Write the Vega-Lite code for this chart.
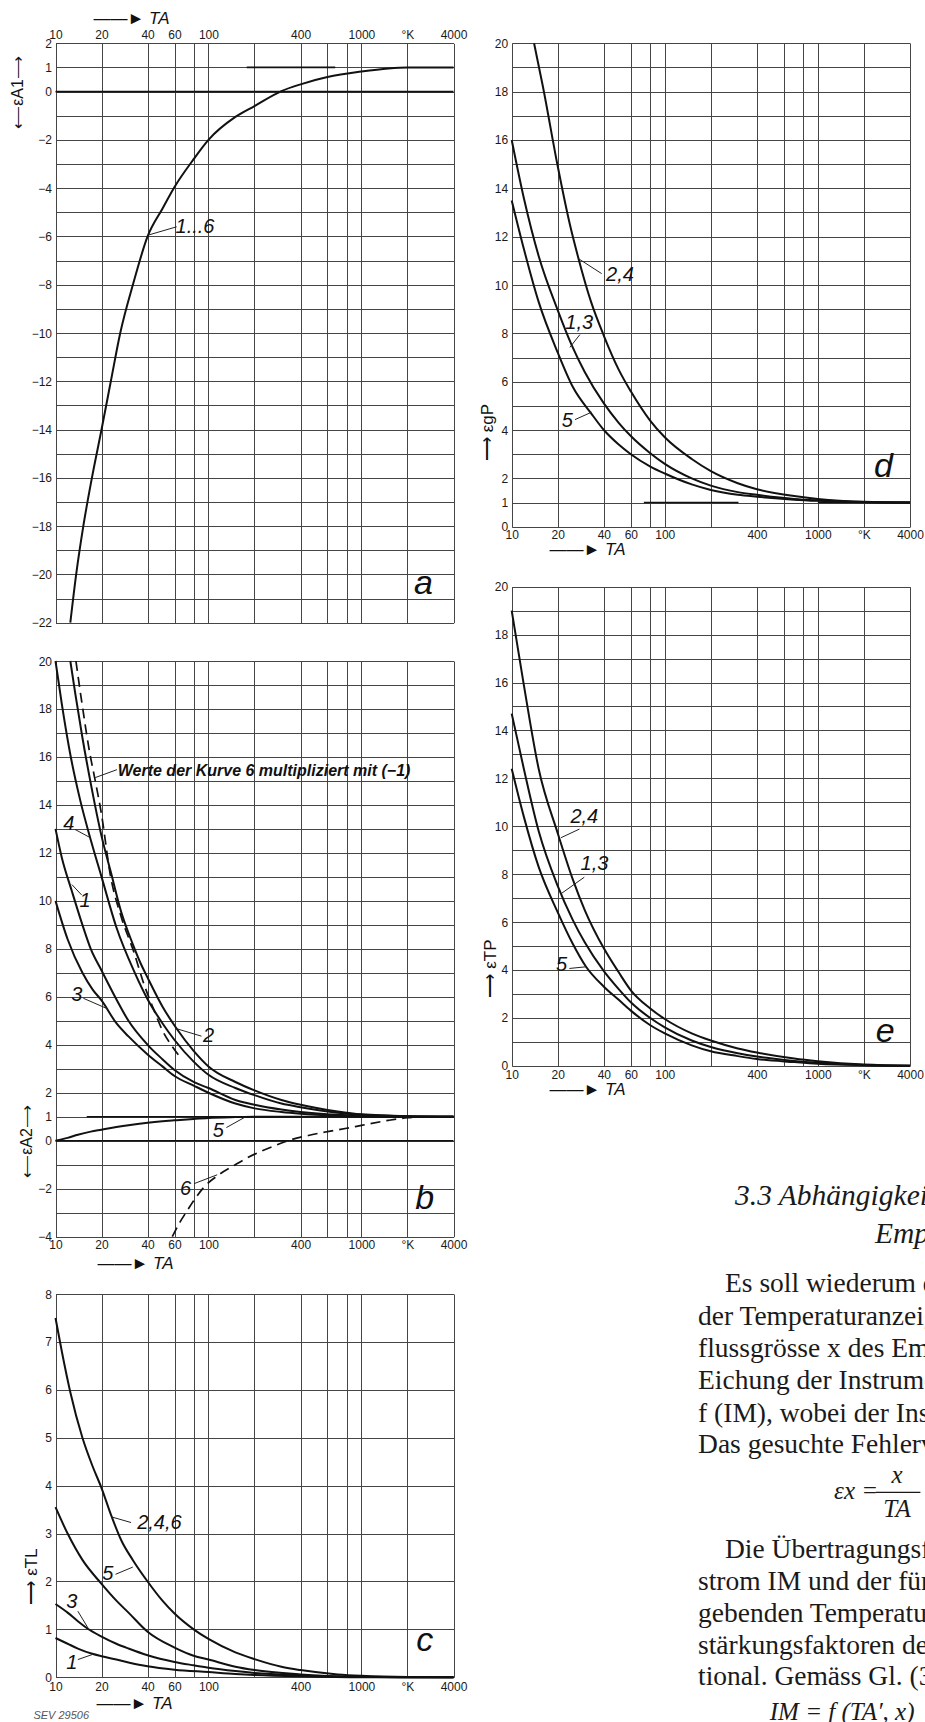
{
"$schema": "https://vega.github.io/schema/vega-lite/v6.json",
"background": "white",
"width": 925,
"height": 1722,
"autosize": "none",
"padding": 0,
"config": {
  "view": {"stroke": null},
  "axis": {"domain": false, "ticks": false, "gridColor": "#454545", "gridWidth": 1, "gridOpacity": 1,
    "labelFont": "Liberation Sans", "labelFontSize": 12, "labelColor": "#1a1a1a", "labelPadding": 4,
    "labelFlush": false, "labelOverlap": false, "labelBound": false,
    "titleFont": "Liberation Sans", "titleFontWeight": "normal", "titleFontSize": 17, "titleColor": "#111"}
},
"resolve": {"scale": {"x": "independent", "y": "independent"}, "axis": {"x": "independent", "y": "independent"}},
"datasets": {
  "a_cur": [{"s":"1-6","T":12.5,"v":-22},{"s":"1-6","T":13.65,"v":-20},{"s":"1-6","T":15.2,"v":-18},{"s":"1-6","T":17.3,"v":-16},{"s":"1-6","T":20,"v":-14},{"s":"1-6","T":23,"v":-12},{"s":"1-6","T":26.5,"v":-10},{"s":"1-6","T":32.4,"v":-7.9},{"s":"1-6","T":40,"v":-6.0},{"s":"1-6","T":50,"v":-4.85},{"s":"1-6","T":60,"v":-3.95},{"s":"1-6","T":80,"v":-2.8},{"s":"1-6","T":100,"v":-2.0},{"s":"1-6","T":150,"v":-1.05},{"s":"1-6","T":200,"v":-0.6},{"s":"1-6","T":300,"v":0.02},{"s":"1-6","T":400,"v":0.3},{"s":"1-6","T":600,"v":0.6},{"s":"1-6","T":1000,"v":0.83},{"s":"1-6","T":1500,"v":0.96},{"s":"1-6","T":2000,"v":1.0},{"s":"1-6","T":4000,"v":1.0}],
  "a_ref": [{"T":10,"T2":4000,"v":0},{"T":178,"T2":674,"v":1}],
  "a_lead": [{"T":40.6,"v":-5.94,"T2":62,"v2":-5.6}],
  "a_lab": [{"k":"curve","T":81.7,"v":-5.6,"t":"1...6"},{"k":"panel","T":2540,"v":-20.4,"t":"a"}],
  "b_cur": [
    {"s":"4","T":10,"v":20},{"s":"4","T":11,"v":18.2},{"s":"4","T":12.5,"v":16.1},{"s":"4","T":14.5,"v":14.2},{"s":"4","T":16.9,"v":12.6},{"s":"4","T":20,"v":11.0},{"s":"4","T":25,"v":8.9},{"s":"4","T":33,"v":7.0},{"s":"4","T":40,"v":5.9},{"s":"4","T":50,"v":4.9},{"s":"4","T":60,"v":4.2},{"s":"4","T":80,"v":3.3},{"s":"4","T":100,"v":2.75},{"s":"4","T":150,"v":2.2},{"s":"4","T":200,"v":1.9},{"s":"4","T":300,"v":1.55},{"s":"4","T":400,"v":1.4},{"s":"4","T":700,"v":1.17},{"s":"4","T":1000,"v":1.08},{"s":"4","T":2000,"v":1.02},{"s":"4","T":4000,"v":1.0},
    {"s":"2","T":12.5,"v":20},{"s":"2","T":13.5,"v":18.6},{"s":"2","T":15,"v":16.8},{"s":"2","T":17,"v":14.9},{"s":"2","T":20,"v":12.7},{"s":"2","T":23,"v":11.2},{"s":"2","T":27,"v":9.5},{"s":"2","T":32,"v":8.2},{"s":"2","T":36,"v":7.4},{"s":"2","T":40,"v":6.8},{"s":"2","T":50,"v":5.6},{"s":"2","T":62,"v":4.67},{"s":"2","T":80,"v":3.75},{"s":"2","T":100,"v":3.1},{"s":"2","T":150,"v":2.45},{"s":"2","T":200,"v":2.1},{"s":"2","T":300,"v":1.7},{"s":"2","T":400,"v":1.5},{"s":"2","T":700,"v":1.22},{"s":"2","T":1000,"v":1.1},{"s":"2","T":2000,"v":1.02},{"s":"2","T":4000,"v":1.0},
    {"s":"1","T":10,"v":13.0},{"s":"1","T":11,"v":11.8},{"s":"1","T":12.8,"v":10.4},{"s":"1","T":15,"v":9.0},{"s":"1","T":17,"v":8.0},{"s":"1","T":20,"v":7.1},{"s":"1","T":25,"v":5.9},{"s":"1","T":30,"v":5.0},{"s":"1","T":40,"v":4.0},{"s":"1","T":50,"v":3.4},{"s":"1","T":60,"v":2.95},{"s":"1","T":80,"v":2.45},{"s":"1","T":100,"v":2.2},{"s":"1","T":150,"v":1.7},{"s":"1","T":200,"v":1.5},{"s":"1","T":300,"v":1.3},{"s":"1","T":400,"v":1.2},{"s":"1","T":700,"v":1.08},{"s":"1","T":1000,"v":1.04},{"s":"1","T":2000,"v":1.0},{"s":"1","T":4000,"v":1.0},
    {"s":"3","T":10,"v":10.0},{"s":"3","T":12,"v":8.4},{"s":"3","T":15,"v":7.0},{"s":"3","T":17.5,"v":6.3},{"s":"3","T":20,"v":5.85},{"s":"3","T":25,"v":4.9},{"s":"3","T":30,"v":4.35},{"s":"3","T":40,"v":3.6},{"s":"3","T":50,"v":3.1},{"s":"3","T":60,"v":2.7},{"s":"3","T":80,"v":2.3},{"s":"3","T":100,"v":2.0},{"s":"3","T":150,"v":1.55},{"s":"3","T":200,"v":1.35},{"s":"3","T":300,"v":1.2},{"s":"3","T":400,"v":1.13},{"s":"3","T":700,"v":1.05},{"s":"3","T":1000,"v":1.02},{"s":"3","T":2000,"v":1.0},{"s":"3","T":4000,"v":1.0},
    {"s":"5","T":10,"v":0},{"s":"5","T":12,"v":0.12},{"s":"5","T":14,"v":0.25},{"s":"5","T":17,"v":0.38},{"s":"5","T":20,"v":0.46},{"s":"5","T":25,"v":0.57},{"s":"5","T":30,"v":0.65},{"s":"5","T":40,"v":0.75},{"s":"5","T":50,"v":0.81},{"s":"5","T":60,"v":0.85},{"s":"5","T":80,"v":0.91},{"s":"5","T":100,"v":0.95},{"s":"5","T":150,"v":0.985},{"s":"5","T":200,"v":1.0},{"s":"5","T":4000,"v":1.0}
  ],
  "b_dash": [
    {"s":"6m","T":13.6,"v":20},{"s":"6m","T":15,"v":18.1},{"s":"6m","T":16.6,"v":16.3},{"s":"6m","T":18.2,"v":15.0},{"s":"6m","T":20,"v":13.6},{"s":"6m","T":22.8,"v":11.1},{"s":"6m","T":27,"v":9.3},{"s":"6m","T":32.4,"v":7.9},{"s":"6m","T":38,"v":6.5},{"s":"6m","T":43.7,"v":5.5},{"s":"6m","T":50,"v":4.6},{"s":"6m","T":57,"v":4.0},{"s":"6m","T":65,"v":3.5},
    {"s":"6","T":58,"v":-4},{"s":"6","T":65,"v":-3.4},{"s":"6","T":72,"v":-2.95},{"s":"6","T":80,"v":-2.5},{"s":"6","T":93,"v":-1.95},{"s":"6","T":115,"v":-1.45},{"s":"6","T":150,"v":-1.0},{"s":"6","T":175,"v":-0.75},{"s":"6","T":210,"v":-0.5},{"s":"6","T":260,"v":-0.25},{"s":"6","T":330,"v":0},{"s":"6","T":450,"v":0.22},{"s":"6","T":600,"v":0.38},{"s":"6","T":800,"v":0.52},{"s":"6","T":1000,"v":0.64},{"s":"6","T":1500,"v":0.85},{"s":"6","T":2000,"v":0.96},{"s":"6","T":2600,"v":1.0}
  ],
  "b_ref": [{"T":10,"T2":4000,"v":0},{"T":16,"T2":4000,"v":1}],
  "b_lead": [{"T":18.2,"v":15.14,"T2":25.2,"v2":15.47},{"T":13.4,"v":12.98,"T2":16.7,"v2":12.65},{"T":12.8,"v":10.68,"T2":14.8,"v2":10.25},{"T":15.2,"v":5.94,"T2":21.9,"v2":5.5},{"T":62,"v":4.67,"T2":90,"v2":4.36},{"T":131,"v":0.55,"T2":173,"v2":0.98},{"T":80.4,"v":-1.79,"T2":114,"v2":-1.42}],
  "b_lab": [{"k":"note","T":231,"v":15.43,"t":"Werte der Kurve 6 multipliziert mit (−1)"},{"k":"curve","T":12.2,"v":13.2,"t":"4"},{"k":"curve","T":15.6,"v":10.0,"t":"1"},{"k":"curve","T":13.8,"v":6.08,"t":"3"},{"k":"curve","T":100,"v":4.36,"t":"2"},{"k":"curve","T":116,"v":0.4,"t":"5"},{"k":"curve","T":70.8,"v":-2.0,"t":"6"},{"k":"panel","T":2590,"v":-2.43,"t":"b"}],
  "c_cur": [
    {"s":"246","T":10,"v":7.5},{"s":"246","T":11,"v":6.8},{"s":"246","T":12.5,"v":5.95},{"s":"246","T":15,"v":5.0},{"s":"246","T":17.5,"v":4.4},{"s":"246","T":20,"v":3.95},{"s":"246","T":23,"v":3.4},{"s":"246","T":27,"v":2.85},{"s":"246","T":32,"v":2.45},{"s":"246","T":40,"v":2.0},{"s":"246","T":50,"v":1.6},{"s":"246","T":60,"v":1.33},{"s":"246","T":80,"v":1.0},{"s":"246","T":100,"v":0.8},{"s":"246","T":150,"v":0.52},{"s":"246","T":200,"v":0.38},{"s":"246","T":300,"v":0.22},{"s":"246","T":400,"v":0.15},{"s":"246","T":700,"v":0.06},{"s":"246","T":1000,"v":0.03},{"s":"246","T":2000,"v":0.005},{"s":"246","T":4000,"v":0},
    {"s":"5","T":10,"v":3.55},{"s":"5","T":12,"v":3.0},{"s":"5","T":15,"v":2.45},{"s":"5","T":20,"v":1.95},{"s":"5","T":25,"v":1.6},{"s":"5","T":30,"v":1.35},{"s":"5","T":40,"v":0.95},{"s":"5","T":60,"v":0.62},{"s":"5","T":80,"v":0.45},{"s":"5","T":100,"v":0.37},{"s":"5","T":150,"v":0.22},{"s":"5","T":200,"v":0.15},{"s":"5","T":400,"v":0.06},{"s":"5","T":1000,"v":0.01},{"s":"5","T":2000,"v":0},{"s":"5","T":4000,"v":0},
    {"s":"3","T":10,"v":1.53},{"s":"3","T":12,"v":1.35},{"s":"3","T":14,"v":1.17},{"s":"3","T":16,"v":1.03},{"s":"3","T":20,"v":0.85},{"s":"3","T":25,"v":0.7},{"s":"3","T":30,"v":0.6},{"s":"3","T":40,"v":0.46},{"s":"3","T":60,"v":0.32},{"s":"3","T":80,"v":0.25},{"s":"3","T":100,"v":0.2},{"s":"3","T":150,"v":0.13},{"s":"3","T":200,"v":0.09},{"s":"3","T":400,"v":0.04},{"s":"3","T":1000,"v":0.01},{"s":"3","T":2000,"v":0},{"s":"3","T":4000,"v":0},
    {"s":"1","T":10,"v":0.82},{"s":"1","T":12,"v":0.7},{"s":"1","T":14,"v":0.6},{"s":"1","T":17.4,"v":0.49},{"s":"1","T":20,"v":0.44},{"s":"1","T":25,"v":0.37},{"s":"1","T":30,"v":0.31},{"s":"1","T":40,"v":0.23},{"s":"1","T":60,"v":0.16},{"s":"1","T":100,"v":0.11},{"s":"1","T":150,"v":0.07},{"s":"1","T":200,"v":0.05},{"s":"1","T":400,"v":0.02},{"s":"1","T":1000,"v":0},{"s":"1","T":4000,"v":0}
  ],
  "c_lead": [{"T":23.1,"v":3.35,"T2":31.2,"v2":3.23},{"T":24.7,"v":2.15,"T2":32,"v2":2.3},{"T":14,"v":1.38,"T2":16.3,"v2":1.03},{"T":14,"v":0.37,"T2":17.4,"v2":0.475}],
  "c_lab": [{"k":"curve","T":47.8,"v":3.23,"t":"2,4,6"},{"k":"curve","T":22,"v":2.15,"t":"5"},{"k":"curve","T":12.8,"v":1.57,"t":"3"},{"k":"curve","T":12.8,"v":0.3,"t":"1"},{"k":"panel","T":2590,"v":0.76,"t":"c"},{"k":"sev","T":10.9,"v":-0.8,"t":"SEV 29506"}],
  "d_cur": [
    {"s":"24","T":14,"v":20},{"s":"24","T":16,"v":18.2},{"s":"24","T":20,"v":14.9},{"s":"24","T":24,"v":12.5},{"s":"24","T":27.3,"v":11.1},{"s":"24","T":33,"v":9.3},{"s":"24","T":40,"v":7.9},{"s":"24","T":50,"v":6.5},{"s":"24","T":60,"v":5.6},{"s":"24","T":80,"v":4.4},{"s":"24","T":100,"v":3.7},{"s":"24","T":150,"v":2.8},{"s":"24","T":200,"v":2.3},{"s":"24","T":300,"v":1.8},{"s":"24","T":400,"v":1.55},{"s":"24","T":700,"v":1.27},{"s":"24","T":1000,"v":1.15},{"s":"24","T":2000,"v":1.03},{"s":"24","T":4000,"v":1.0},
    {"s":"13","T":10,"v":16.0},{"s":"13","T":12,"v":13.6},{"s":"13","T":15,"v":11.2},{"s":"13","T":20,"v":8.95},{"s":"13","T":24.7,"v":7.5},{"s":"13","T":30,"v":6.4},{"s":"13","T":40,"v":5.1},{"s":"13","T":50,"v":4.3},{"s":"13","T":60,"v":3.75},{"s":"13","T":80,"v":3.05},{"s":"13","T":100,"v":2.6},{"s":"13","T":150,"v":2.0},{"s":"13","T":200,"v":1.7},{"s":"13","T":300,"v":1.43},{"s":"13","T":400,"v":1.32},{"s":"13","T":700,"v":1.15},{"s":"13","T":1000,"v":1.09},{"s":"13","T":2000,"v":1.02},{"s":"13","T":4000,"v":1.0},
    {"s":"5","T":10,"v":13.5},{"s":"5","T":12,"v":11.5},{"s":"5","T":15,"v":9.3},{"s":"5","T":20,"v":7.2},{"s":"5","T":25,"v":5.8},{"s":"5","T":33.3,"v":4.66},{"s":"5","T":40,"v":4.0},{"s":"5","T":50,"v":3.4},{"s":"5","T":60,"v":3.0},{"s":"5","T":80,"v":2.5},{"s":"5","T":100,"v":2.2},{"s":"5","T":150,"v":1.75},{"s":"5","T":200,"v":1.52},{"s":"5","T":300,"v":1.32},{"s":"5","T":400,"v":1.24},{"s":"5","T":700,"v":1.12},{"s":"5","T":1000,"v":1.07},{"s":"5","T":2000,"v":1.01},{"s":"5","T":4000,"v":1.0}
  ],
  "d_ref": [{"T":73,"T2":303,"v":1},{"T":1000,"T2":4000,"v":1}],
  "d_lead": [{"T":27.3,"v":11.09,"T2":38.7,"v2":10.47},{"T":24.0,"v":7.42,"T2":27.9,"v2":7.95},{"T":25.9,"v":4.43,"T2":33.3,"v2":4.74}],
  "d_lab": [{"k":"curve","T":51,"v":10.4,"t":"2,4"},{"k":"curve","T":27.6,"v":8.41,"t":"1,3"},{"k":"curve","T":23.1,"v":4.36,"t":"5"},{"k":"panel","T":2680,"v":2.45,"t":"d"}],
  "e_cur": [
    {"s":"24","T":10,"v":19.0},{"s":"24","T":12,"v":15.9},{"s":"24","T":15,"v":12.4},{"s":"24","T":20,"v":9.7},{"s":"24","T":25,"v":7.8},{"s":"24","T":30,"v":6.5},{"s":"24","T":40,"v":4.9},{"s":"24","T":50,"v":3.9},{"s":"24","T":60,"v":3.15},{"s":"24","T":80,"v":2.4},{"s":"24","T":100,"v":1.95},{"s":"24","T":150,"v":1.35},{"s":"24","T":200,"v":1.05},{"s":"24","T":300,"v":0.72},{"s":"24","T":400,"v":0.55},{"s":"24","T":700,"v":0.3},{"s":"24","T":1000,"v":0.19},{"s":"24","T":2000,"v":0.05},{"s":"24","T":4000,"v":0},
    {"s":"13","T":10,"v":14.7},{"s":"13","T":12,"v":12.4},{"s":"13","T":15,"v":9.8},{"s":"13","T":20,"v":7.5},{"s":"13","T":25,"v":6.1},{"s":"13","T":30,"v":5.15},{"s":"13","T":40,"v":3.95},{"s":"13","T":50,"v":3.2},{"s":"13","T":60,"v":2.65},{"s":"13","T":80,"v":2.0},{"s":"13","T":100,"v":1.6},{"s":"13","T":150,"v":1.05},{"s":"13","T":200,"v":0.78},{"s":"13","T":300,"v":0.52},{"s":"13","T":400,"v":0.38},{"s":"13","T":700,"v":0.2},{"s":"13","T":1000,"v":0.12},{"s":"13","T":2000,"v":0.03},{"s":"13","T":4000,"v":0},
    {"s":"5","T":10,"v":12.4},{"s":"5","T":12,"v":10.4},{"s":"5","T":15,"v":8.3},{"s":"5","T":20,"v":6.4},{"s":"5","T":25,"v":5.1},{"s":"5","T":30.6,"v":4.13},{"s":"5","T":40,"v":3.3},{"s":"5","T":50,"v":2.75},{"s":"5","T":60,"v":2.3},{"s":"5","T":80,"v":1.7},{"s":"5","T":100,"v":1.35},{"s":"5","T":150,"v":0.85},{"s":"5","T":200,"v":0.6},{"s":"5","T":300,"v":0.4},{"s":"5","T":400,"v":0.28},{"s":"5","T":700,"v":0.15},{"s":"5","T":1000,"v":0.08},{"s":"5","T":2000,"v":0.02},{"s":"5","T":4000,"v":0}
  ],
  "e_lead": [{"T":21.0,"v":9.52,"T2":27.7,"v2":9.88},{"T":21.0,"v":7.18,"T2":29.8,"v2":7.87},{"T":23.8,"v":4.06,"T2":30.6,"v2":4.13}],
  "e_lab": [{"k":"curve","T":29.8,"v":10.38,"t":"2,4"},{"k":"curve","T":34.7,"v":8.44,"t":"1,3"},{"k":"curve","T":21.2,"v":4.21,"t":"5"},{"k":"panel","T":2750,"v":1.41,"t":"e"}],
  "txt": [
    {"k":"h","u":0.23,"line":2.45,"t":"3.3 Abhängigkeit der"},
    {"k":"h","u":6.32,"line":3.63,"t":"Empfindlichkeit"},
    {"k":"b","u":-0.21,"line":5.15,"t":"Es soll wiederum die Abhängigkeit"},
    {"k":"b","u":-1.385,"line":6.17,"t":"der Temperaturanzeige von der Ein-"},
    {"k":"b","u":-1.385,"line":7.17,"t":"flussgrösse x des Empfängers bei"},
    {"k":"b","u":-1.385,"line":8.15,"t":"Eichung der Instrumente nach"},
    {"k":"b","u":-1.385,"line":9.17,"t":"f (IM), wobei der Instrumentenstrom"},
    {"k":"b","u":-1.385,"line":10.14,"t":"Das gesuchte Fehlerverhältnis"},
    {"k":"f","u":4.54,"line":11.55,"t":"εx ="},
    {"k":"fc","u":7.28,"line":11.05,"t":"x"},
    {"k":"fc","u":7.28,"line":12.1,"t":"TA"},
    {"k":"b","u":-0.21,"line":13.38,"t":"Die Übertragungsfunktion"},
    {"k":"b","u":-1.385,"line":14.37,"t":"strom IM und der für die"},
    {"k":"b","u":-1.385,"line":15.36,"t":"gebenden Temperaturwerte"},
    {"k":"b","u":-1.385,"line":16.35,"t":"stärkungsfaktoren der Ver-"},
    {"k":"b","u":-1.385,"line":17.31,"t":"tional. Gemäss Gl. (3)"},
    {"k":"f","u":1.74,"line":18.4,"t":"IM = f (TA′, x)"}
  ],
  "txt_bar": [{"u":6.35,"u2":8.3,"line":11.35}]
},
"layer": [
 {"resolve": {"axis": {"x": "independent", "y": "independent"}},
  "layer": [
   {"data":{"name":"a_cur"},"mark":{"type":"line","color":"#111","strokeWidth":2,"interpolate":"monotone"},
    "encoding":{
     "x":{"field":"T","type":"quantitative","scale":{"type":"log","domain":[10,4000],"nice":false,"range":[55.5,453.5]},
       "axis":{"orient":"top","offset":-43.3,"grid":true,"values":[10,20,40,60,80,100,200,400,600,800,1000,2000,4000],"format":"d",
         "labelExpr":"datum.value == 2000 ? '°K' : ((datum.value == 80 || datum.value == 200 || datum.value == 600 || datum.value == 800) ? '' : datum.label)",
         "labelPadding":2,"title":"——► TA","titleFontStyle":"italic","titleX":131,"titleY":-25,"titleAlign":"center","titleBaseline":"middle","titleAngle":0}},
     "y":{"field":"v","type":"quantitative","scale":{"domain":[-22,2],"nice":false,"zero":false,"range":[622.7,43.3]},
       "axis":{"orient":"left","offset":-55.5,"grid":true,"values":[-22,-21,-20,-19,-18,-17,-16,-15,-14,-13,-12,-11,-10,-9,-8,-7,-6,-5,-4,-3,-2,-1,0,1,2],"format":"d",
         "labelExpr":"(datum.value % 2 == 0 || datum.value == 1) ? datum.label : ''",
         "title":"⟵εA1⟶","titleFontSize":16,"titleX":-38,"titleY":92,"titleAngle":270,"titleAlign":"center","titleBaseline":"middle"}},
     "detail":{"field":"s"}}},
   {"data":{"name":"a_ref"},"mark":{"type":"rule","color":"#111","strokeWidth":1.8},
    "encoding":{"x":{"field":"T","type":"quantitative","axis":null},"x2":{"field":"T2"},"y":{"field":"v","type":"quantitative","axis":null}}},
   {"data":{"name":"a_lead"},"mark":{"type":"rule","color":"#222","strokeWidth":1},
    "encoding":{"x":{"field":"T","type":"quantitative","axis":null},"x2":{"field":"T2"},"y":{"field":"v","type":"quantitative","axis":null},"y2":{"field":"v2"}}},
   {"data":{"name":"a_lab"},"transform":[{"filter":"datum.k == 'curve'"}],"mark":{"type":"text","font":"Liberation Sans","fontStyle":"italic","fontSize":20,"color":"#111","align":"center","baseline":"middle"},
    "encoding":{"x":{"field":"T","type":"quantitative","axis":null},"y":{"field":"v","type":"quantitative","axis":null},"text":{"field":"t"}}},
   {"data":{"name":"a_lab"},"transform":[{"filter":"datum.k == 'panel'"}],"mark":{"type":"text","font":"Liberation Sans","fontStyle":"italic","fontSize":34,"color":"#111","align":"center","baseline":"middle"},
    "encoding":{"x":{"field":"T","type":"quantitative","axis":null},"y":{"field":"v","type":"quantitative","axis":null},"text":{"field":"t"}}}
 ]},
 {"resolve": {"axis": {"x": "independent", "y": "independent"}},
  "layer": [
   {"data":{"name":"b_cur"},"mark":{"type":"line","color":"#111","strokeWidth":2,"interpolate":"monotone"},
    "encoding":{
     "x":{"field":"T","type":"quantitative","scale":{"type":"log","domain":[10,4000],"nice":false,"range":[55.5,453.5]},
       "axis":{"orient":"top","offset":-661,"grid":true,"labels":false,"title":null,"values":[10,20,40,60,80,100,200,400,600,800,1000,2000,4000]}},
     "y":{"field":"v","type":"quantitative","scale":{"domain":[-4,20],"nice":false,"zero":false,"range":[1236.7,661]},
       "axis":{"orient":"left","offset":-55.5,"grid":true,"values":[-4,-3,-2,-1,0,1,2,3,4,5,6,7,8,9,10,11,12,13,14,15,16,17,18,19,20],"format":"d",
         "labelExpr":"(datum.value % 2 == 0 || datum.value == 1) ? datum.label : ''",
         "title":"⟵εA2⟶","titleFontSize":16,"titleX":-29,"titleY":1141,"titleAngle":270,"titleAlign":"center","titleBaseline":"middle"}},
     "detail":{"field":"s"}}},
   {"data":{"name":"b_dash"},"mark":{"type":"line","color":"#111","strokeWidth":1.7,"strokeDash":[10,6],"interpolate":"monotone"},
    "encoding":{"x":{"field":"T","type":"quantitative","axis":null},"y":{"field":"v","type":"quantitative","axis":null},"detail":{"field":"s"}}},
   {"data":{"name":"b_ref"},"mark":{"type":"rule","color":"#111","strokeWidth":1.7},
    "encoding":{"x":{"field":"T","type":"quantitative","axis":null},"x2":{"field":"T2"},"y":{"field":"v","type":"quantitative","axis":null}}},
   {"data":{"name":"b_lead"},"mark":{"type":"rule","color":"#222","strokeWidth":1},
    "encoding":{
     "x":{"field":"T","type":"quantitative",
       "axis":{"orient":"bottom","offset":-485.3,"grid":false,"values":[10,20,40,60,80,100,200,400,600,800,1000,2000,4000],"format":"d",
         "labelExpr":"datum.value == 2000 ? '°K' : ((datum.value == 80 || datum.value == 200 || datum.value == 600 || datum.value == 800) ? '' : datum.label)",
         "labelPadding":3,"title":"——► TA","titleFontStyle":"italic","titleX":135,"titleY":27,"titleAlign":"center","titleBaseline":"middle","titleAngle":0}},
     "x2":{"field":"T2"},"y":{"field":"v","type":"quantitative","axis":null},"y2":{"field":"v2"}}},
   {"data":{"name":"b_lab"},"transform":[{"filter":"datum.k == 'curve'"}],"mark":{"type":"text","font":"Liberation Sans","fontStyle":"italic","fontSize":20,"color":"#111","align":"center","baseline":"middle"},
    "encoding":{"x":{"field":"T","type":"quantitative","axis":null},"y":{"field":"v","type":"quantitative","axis":null},"text":{"field":"t"}}},
   {"data":{"name":"b_lab"},"transform":[{"filter":"datum.k == 'note'"}],"mark":{"type":"text","font":"Liberation Sans","fontStyle":"italic","fontWeight":"bold","fontSize":16,"color":"#111","align":"center","baseline":"middle"},
    "encoding":{"x":{"field":"T","type":"quantitative","axis":null},"y":{"field":"v","type":"quantitative","axis":null},"text":{"field":"t"}}},
   {"data":{"name":"b_lab"},"transform":[{"filter":"datum.k == 'panel'"}],"mark":{"type":"text","font":"Liberation Sans","fontStyle":"italic","fontSize":34,"color":"#111","align":"center","baseline":"middle"},
    "encoding":{"x":{"field":"T","type":"quantitative","axis":null},"y":{"field":"v","type":"quantitative","axis":null},"text":{"field":"t"}}}
 ]},
 {"resolve": {"axis": {"x": "independent", "y": "independent"}},
  "layer": [
   {"data":{"name":"c_cur"},"mark":{"type":"line","color":"#111","strokeWidth":2,"interpolate":"monotone"},
    "encoding":{
     "x":{"field":"T","type":"quantitative","scale":{"type":"log","domain":[10,4000],"nice":false,"range":[55.5,453.5]},
       "axis":{"orient":"top","offset":-1294,"grid":true,"labels":false,"title":null,"values":[10,20,40,60,80,100,200,400,600,800,1000,2000,4000]}},
     "y":{"field":"v","type":"quantitative","scale":{"domain":[0,8],"nice":false,"zero":false,"range":[1677.3,1294]},
       "axis":{"orient":"left","offset":-55.5,"grid":true,"values":[0,0.5,1,1.5,2,2.5,3,3.5,4,4.5,5,5.5,6,6.5,7,7.5,8],"format":"d",
         "labelExpr":"(datum.value % 1 == 0) ? datum.label : ''",
         "title":"⟶ εTL","titleX":-24,"titleY":1576,"titleAngle":270,"titleAlign":"center","titleBaseline":"middle"}},
     "detail":{"field":"s"}}},
   {"data":{"name":"c_lead"},"mark":{"type":"rule","color":"#222","strokeWidth":1},
    "encoding":{
     "x":{"field":"T","type":"quantitative",
       "axis":{"orient":"bottom","offset":-44.7,"grid":false,"values":[10,20,40,60,80,100,200,400,600,800,1000,2000,4000],"format":"d",
         "labelExpr":"datum.value == 2000 ? '°K' : ((datum.value == 80 || datum.value == 200 || datum.value == 600 || datum.value == 800) ? '' : datum.label)",
         "labelPadding":4,"title":"——► TA","titleFontStyle":"italic","titleX":134,"titleY":26,"titleAlign":"center","titleBaseline":"middle","titleAngle":0}},
     "x2":{"field":"T2"},"y":{"field":"v","type":"quantitative","axis":null},"y2":{"field":"v2"}}},
   {"data":{"name":"c_lab"},"transform":[{"filter":"datum.k == 'curve'"}],"mark":{"type":"text","font":"Liberation Sans","fontStyle":"italic","fontSize":20,"color":"#111","align":"center","baseline":"middle"},
    "encoding":{"x":{"field":"T","type":"quantitative","axis":null},"y":{"field":"v","type":"quantitative","axis":null},"text":{"field":"t"}}},
   {"data":{"name":"c_lab"},"transform":[{"filter":"datum.k == 'panel'"}],"mark":{"type":"text","font":"Liberation Sans","fontStyle":"italic","fontSize":34,"color":"#111","align":"center","baseline":"middle"},
    "encoding":{"x":{"field":"T","type":"quantitative","axis":null},"y":{"field":"v","type":"quantitative","axis":null},"text":{"field":"t"}}},
   {"data":{"name":"c_lab"},"transform":[{"filter":"datum.k == 'sev'"}],"mark":{"type":"text","font":"Liberation Sans","fontStyle":"italic","fontSize":11,"color":"#555","align":"center","baseline":"middle"},
    "encoding":{"x":{"field":"T","type":"quantitative","axis":null},"y":{"field":"v","type":"quantitative","axis":null},"text":{"field":"t"}}}
 ]},
 {"resolve": {"axis": {"x": "independent", "y": "independent"}},
  "layer": [
   {"data":{"name":"d_cur"},"mark":{"type":"line","color":"#111","strokeWidth":2,"interpolate":"monotone"},
    "encoding":{
     "x":{"field":"T","type":"quantitative","scale":{"type":"log","domain":[10,4000],"nice":false,"range":[511.7,910]},
       "axis":{"orient":"top","offset":-43.3,"grid":true,"labels":false,"title":null,"values":[10,20,40,60,80,100,200,400,600,800,1000,2000,4000]}},
     "y":{"field":"v","type":"quantitative","scale":{"domain":[0,20],"nice":false,"zero":false,"range":[526.7,43.3]},
       "axis":{"orient":"left","offset":-511.7,"grid":true,"values":[0,1,2,3,4,5,6,7,8,9,10,11,12,13,14,15,16,17,18,19,20],"format":"d",
         "labelExpr":"(datum.value % 2 == 0 || datum.value == 1) ? datum.label : ''",
         "title":"⟶ εgP","titleX":-24,"titleY":432,"titleAngle":270,"titleAlign":"center","titleBaseline":"middle"}},
     "detail":{"field":"s"}}},
   {"data":{"name":"d_ref"},"mark":{"type":"rule","color":"#111","strokeWidth":1.6},
    "encoding":{"x":{"field":"T","type":"quantitative","axis":null},"x2":{"field":"T2"},"y":{"field":"v","type":"quantitative","axis":null}}},
   {"data":{"name":"d_lead"},"mark":{"type":"rule","color":"#222","strokeWidth":1},
    "encoding":{
     "x":{"field":"T","type":"quantitative",
       "axis":{"orient":"bottom","offset":-1195.3,"grid":false,"values":[10,20,40,60,80,100,200,400,600,800,1000,2000,4000],"format":"d",
         "labelExpr":"datum.value == 2000 ? '°K' : ((datum.value == 80 || datum.value == 200 || datum.value == 600 || datum.value == 800) ? '' : datum.label)",
         "labelPadding":3,"title":"——► TA","titleFontStyle":"italic","titleX":587,"titleY":23,"titleAlign":"center","titleBaseline":"middle","titleAngle":0}},
     "x2":{"field":"T2"},"y":{"field":"v","type":"quantitative","axis":null},"y2":{"field":"v2"}}},
   {"data":{"name":"d_lab"},"transform":[{"filter":"datum.k == 'curve'"}],"mark":{"type":"text","font":"Liberation Sans","fontStyle":"italic","fontSize":20,"color":"#111","align":"center","baseline":"middle"},
    "encoding":{"x":{"field":"T","type":"quantitative","axis":null},"y":{"field":"v","type":"quantitative","axis":null},"text":{"field":"t"}}},
   {"data":{"name":"d_lab"},"transform":[{"filter":"datum.k == 'panel'"}],"mark":{"type":"text","font":"Liberation Sans","fontStyle":"italic","fontSize":34,"color":"#111","align":"center","baseline":"middle"},
    "encoding":{"x":{"field":"T","type":"quantitative","axis":null},"y":{"field":"v","type":"quantitative","axis":null},"text":{"field":"t"}}}
 ]},
 {"resolve": {"axis": {"x": "independent", "y": "independent"}},
  "layer": [
   {"data":{"name":"e_cur"},"mark":{"type":"line","color":"#111","strokeWidth":2,"interpolate":"monotone"},
    "encoding":{
     "x":{"field":"T","type":"quantitative","scale":{"type":"log","domain":[10,4000],"nice":false,"range":[511.7,910]},
       "axis":{"orient":"top","offset":-586.7,"grid":true,"labels":false,"title":null,"values":[10,20,40,60,80,100,200,400,600,800,1000,2000,4000]}},
     "y":{"field":"v","type":"quantitative","scale":{"domain":[0,20],"nice":false,"zero":false,"range":[1065.7,586.7]},
       "axis":{"orient":"left","offset":-511.7,"grid":true,"values":[0,1,2,3,4,5,6,7,8,9,10,11,12,13,14,15,16,17,18,19,20],"format":"d",
         "labelExpr":"(datum.value % 2 == 0) ? datum.label : ''",
         "title":"⟶ εTP","titleX":-21,"titleY":968,"titleAngle":270,"titleAlign":"center","titleBaseline":"middle"}},
     "detail":{"field":"s"}}},
   {"data":{"name":"e_lead"},"mark":{"type":"rule","color":"#222","strokeWidth":1},
    "encoding":{
     "x":{"field":"T","type":"quantitative",
       "axis":{"orient":"bottom","offset":-656.3,"grid":false,"values":[10,20,40,60,80,100,200,400,600,800,1000,2000,4000],"format":"d",
         "labelExpr":"datum.value == 2000 ? '°K' : ((datum.value == 80 || datum.value == 200 || datum.value == 600 || datum.value == 800) ? '' : datum.label)",
         "labelPadding":4,"title":"——► TA","titleFontStyle":"italic","titleX":587,"titleY":24,"titleAlign":"center","titleBaseline":"middle","titleAngle":0}},
     "x2":{"field":"T2"},"y":{"field":"v","type":"quantitative","axis":null},"y2":{"field":"v2"}}},
   {"data":{"name":"e_lab"},"transform":[{"filter":"datum.k == 'curve'"}],"mark":{"type":"text","font":"Liberation Sans","fontStyle":"italic","fontSize":20,"color":"#111","align":"center","baseline":"middle"},
    "encoding":{"x":{"field":"T","type":"quantitative","axis":null},"y":{"field":"v","type":"quantitative","axis":null},"text":{"field":"t"}}},
   {"data":{"name":"e_lab"},"transform":[{"filter":"datum.k == 'panel'"}],"mark":{"type":"text","font":"Liberation Sans","fontStyle":"italic","fontSize":34,"color":"#111","align":"center","baseline":"middle"},
    "encoding":{"x":{"field":"T","type":"quantitative","axis":null},"y":{"field":"v","type":"quantitative","axis":null},"text":{"field":"t"}}}
 ]},
 {"layer": [
   {"data":{"name":"txt"},"transform":[{"filter":"datum.k == 'h'"}],"mark":{"type":"text","font":"Liberation Serif","fontStyle":"italic","fontSize":29.5,"color":"#1a1a1a","align":"left","baseline":"alphabetic"},
    "encoding":{"x":{"field":"u","type":"quantitative","scale":{"domain":[-9.5,8.5],"nice":false,"zero":false,"range":[511.7,925]},"axis":null},
      "y":{"field":"line","type":"quantitative","scale":{"domain":[0,18.46],"nice":false,"zero":false,"range":[1125.7,1722]},"axis":null},"text":{"field":"t"}}},
   {"data":{"name":"txt"},"transform":[{"filter":"datum.k == 'b'"}],"mark":{"type":"text","font":"Liberation Serif","fontSize":27.5,"color":"#1a1a1a","align":"left","baseline":"alphabetic"},
    "encoding":{"x":{"field":"u","type":"quantitative","axis":null},"y":{"field":"line","type":"quantitative","axis":null},"text":{"field":"t"}}},
   {"data":{"name":"txt"},"transform":[{"filter":"datum.k == 'f'"}],"mark":{"type":"text","font":"Liberation Serif","fontStyle":"italic","fontSize":25,"color":"#1a1a1a","align":"left","baseline":"alphabetic"},
    "encoding":{"x":{"field":"u","type":"quantitative","axis":null},"y":{"field":"line","type":"quantitative","axis":null},"text":{"field":"t"}}},
   {"data":{"name":"txt"},"transform":[{"filter":"datum.k == 'fc'"}],"mark":{"type":"text","font":"Liberation Serif","fontStyle":"italic","fontSize":25,"color":"#1a1a1a","align":"center","baseline":"alphabetic"},
    "encoding":{"x":{"field":"u","type":"quantitative","axis":null},"y":{"field":"line","type":"quantitative","axis":null},"text":{"field":"t"}}},
   {"data":{"name":"txt_bar"},"mark":{"type":"rule","color":"#1a1a1a","strokeWidth":1.2},
    "encoding":{"x":{"field":"u","type":"quantitative","axis":null},"x2":{"field":"u2"},"y":{"field":"line","type":"quantitative","axis":null}}}
 ]}
]
}
